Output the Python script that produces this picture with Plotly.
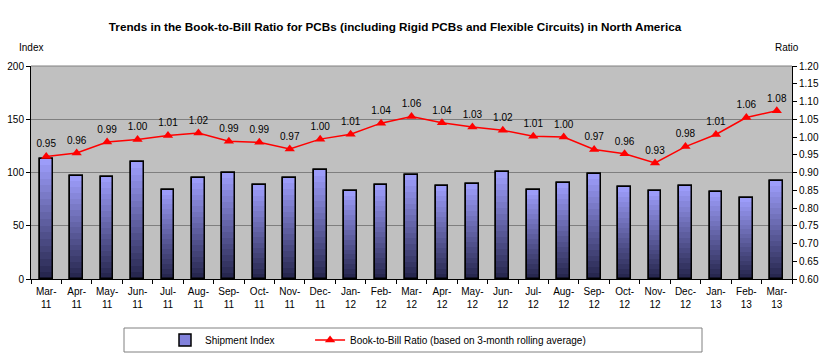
import plotly.graph_objects as go

months = ["Mar-11", "Apr-11", "May-11", "Jun-11", "Jul-11", "Aug-11", "Sep-11", "Oct-11",
          "Nov-11", "Dec-11", "Jan-12", "Feb-12", "Mar-12", "Apr-12", "May-12", "Jun-12",
          "Jul-12", "Aug-12", "Sep-12", "Oct-12", "Nov-12", "Dec-12", "Jan-13", "Feb-13", "Mar-13"]
shipment_index = [113, 97, 96, 110, 84, 95, 100, 88, 95, 102, 83, 88, 98,
                  87.5, 89, 100.5, 84, 90, 99, 86.5, 83, 87.5, 82, 76.5, 92]
ratio_values = [0.945, 0.955, 0.986, 0.993, 1.004, 1.011, 0.988, 0.985, 0.966, 0.994,
                1.008, 1.039, 1.058, 1.040, 1.028, 1.019, 1.002, 1.000, 0.965, 0.953,
                0.927, 0.973, 1.007, 1.055, 1.074]
ratio_labels = ["0.95", "0.96", "0.99", "1.00", "1.01", "1.02", "0.99", "0.99", "0.97", "1.00",
                "1.01", "1.04", "1.06", "1.04", "1.03", "1.02", "1.01", "1.00", "0.97", "0.96",
                "0.93", "0.98", "1.01", "1.06", "1.08"]
tick_text = [m.replace("-", "-<br>") for m in months]

FONT = "Liberation Sans, Arial, sans-serif"
BAR_W = 0.42
top_rgb = (160, 160, 255)
bot_rgb = (36, 36, 74)
NBSP = "\u00a0"

fig = go.Figure()

# base bar (legend entry)
fig.add_trace(go.Bar(x=months, y=shipment_index, name="Shipment Index" + NBSP * 11, width=BAR_W,
                     marker=dict(color="rgb(130,130,220)", line=dict(color="black", width=1.5)),
                     yaxis="y", showlegend=True))

# vertical gradient fill per bar (overlaid layers)
N = 18
for i in range(N):
    f = 1 - i / N
    t = (f - 0.5 / N)
    c = tuple(int(bot_rgb[k] + (top_rgb[k] - bot_rgb[k]) * t) for k in range(3))
    fig.add_trace(go.Bar(x=months, y=[v * f for v in shipment_index], width=BAR_W,
                         marker=dict(color="rgb(%d,%d,%d)" % c, line=dict(width=0)),
                         yaxis="y", showlegend=False, hoverinfo="skip"))

# outline on top
fig.add_trace(go.Bar(x=months, y=shipment_index, width=BAR_W,
                     marker=dict(color="rgba(0,0,0,0)", line=dict(color="black", width=1.5)),
                     yaxis="y", showlegend=False, hoverinfo="skip"))

fig.add_trace(go.Scatter(x=months, y=ratio_values, yaxis="y2", mode="lines+markers+text",
                         name="Book-to-Bill Ratio (based on 3-month rolling average)",
                         line=dict(color="#ff0000", width=1.5),
                         marker=dict(symbol="triangle-up", size=9, color="#ff0000"),
                         text=ratio_labels, textposition="top center",
                         textfont=dict(family=FONT, size=10, color="black")))

fig.update_layout(
    width=827, height=359,
    margin=dict(l=31, r=35, t=66, b=80, autoexpand=False),
    paper_bgcolor="white", plot_bgcolor="#c0c0c0",
    barmode="overlay", bargap=0,
    font=dict(family=FONT, size=10, color="black"),
    title=dict(text="<b>Trends in the Book-to-Bill Ratio for PCBs (including Rigid PCBs and Flexible Circuits) in North America</b>",
               x=395 / 827, xanchor="center", xref="container",
               y=1 - 27 / 359, yanchor="middle", yref="container",
               font=dict(family=FONT, size=11.7, color="black")),
    xaxis=dict(type="category", tickmode="array", tickvals=months, ticktext=tick_text,
               range=[-0.5, len(months) - 0.5],
               tickangle=0, automargin=False, ticklabelstandoff=3,
               showline=True, linecolor="black", linewidth=1, ticks="outside", tickson="boundaries",
               ticklen=4, tickcolor="black", showgrid=False, mirror=False,
               tickfont=dict(family=FONT, size=10, color="black")),
    yaxis=dict(range=[0, 200], dtick=50, showline=True, linecolor="black", linewidth=1,
               automargin=False,
               ticks="outside", ticklen=4, tickcolor="black", showgrid=True, gridcolor="#7f7f7f",
               gridwidth=1, zeroline=False, tickfont=dict(family=FONT, size=10, color="black")),
    yaxis2=dict(range=[0.6, 1.2], dtick=0.05, tickformat=".2f", overlaying="y", side="right",
                automargin=False,
                showline=True, linecolor="black", linewidth=1, ticks="outside", ticklen=4,
                tickcolor="black", showgrid=False, zeroline=False,
                tickfont=dict(family=FONT, size=10, color="black")),
    legend=dict(orientation="h", xref="container", yref="container",
                x=165 / 827, xanchor="left", y=1 - 340 / 359, yanchor="middle",
                bgcolor="rgba(0,0,0,0)", borderwidth=0,
                font=dict(family=FONT, size=10, color="black")),
    showlegend=True,
)

# legend frame
fig.add_shape(type="rect", xref="paper", yref="paper",
              x0=(124 - 31) / 761, x1=(702 - 31) / 761,
              y0=(279 - 352) / 213, y1=(279 - 328) / 213,
              line=dict(color="#808080", width=1), fillcolor="rgba(0,0,0,0)", layer="below")

# top border of plot area
fig.add_shape(type="line", xref="paper", yref="paper", x0=0, x1=1, y0=1, y1=1,
              line=dict(color="#808080", width=1))

fig.add_annotation(text="Index", xref="paper", yref="paper", x=0, y=(279 - 47) / 213,
                   xanchor="center", yanchor="middle", showarrow=False,
                   font=dict(family=FONT, size=10, color="black"))
fig.add_annotation(text="Ratio", xref="paper", yref="paper", x=(787 - 31) / 761, y=(279 - 47) / 213,
                   xanchor="center", yanchor="middle", showarrow=False,
                   font=dict(family=FONT, size=10, color="black"))

fig.write_html("out.html", config={"displayModeBar": False},
               post_script="document.body.style.margin='0';document.body.style.overflow='hidden';")
